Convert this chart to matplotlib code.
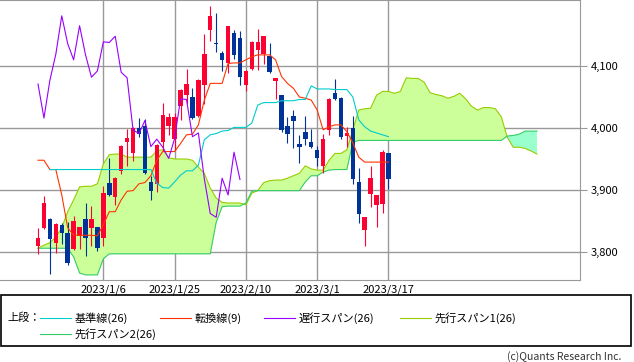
import matplotlib
matplotlib.use('Agg')
import matplotlib.pyplot as plt
from matplotlib.lines import Line2D
from matplotlib.patches import Rectangle
import numpy as np

plt.rcParams['font.family'] = ['Noto Sans CJK JP', 'DejaVu Sans']

# daily candles, 2022/12/20 .. 2023/3/17
opens = [3810, 3839, 3853, 3815, 3844, 3831, 3805, 3826, 3853, 3838,
         3840, 3823, 3911, 3888, 3930, 3978, 3960, 4000, 4003, 3913,
         3909, 3978, 4003, 3983, 4035, 4054, 4050, 4019, 4070, 4158,
         4137, 4121, 4105, 4154, 4145, 4069, 4095, 4126, 4120, 4116,
         4076, 4053, 4003, 4019, 3974, 3994, 3977, 3965, 3938, 3997,
         4056, 4049, 3987, 4000, 3913, 3835, 3894, 3876, 3878, 3959]
highs = [3838, 3891, 3855, 3847, 3847, 3848, 3858, 3841, 3879, 3874,
         3841, 3906, 3952, 3921, 3972, 3999, 4001, 4016, 4015, 3923,
         3974, 4040, 4024, 4024, 4063, 4095, 4065, 4079, 4151, 4197,
         4185, 4125, 4165, 4158, 4156, 4093, 4140, 4160, 4149, 4137,
         4081, 4054, 4018, 4029, 3989, 4019, 3998, 3971, 3991, 4048,
         4079, 4050, 4002, 4019, 3935, 3856, 3938, 3892, 3965, 3960]
lows = [3796, 3837, 3764, 3798, 3813, 3779, 3804, 3805, 3794, 3809,
        3802, 3809, 3891, 3876, 3926, 3938, 3947, 3985, 3926, 3884,
        3897, 3963, 3989, 3965, 4013, 4039, 4015, 4018, 4038, 4141,
        4123, 4092, 4088, 4112, 4069, 4060, 4094, 4094, 4104, 4089,
        4047, 3994, 3976, 3967, 3943, 3973, 3968, 3939, 3928, 3989,
        4045, 3983, 3970, 3909, 3846, 3809, 3873, 3840, 3863, 3901]
closes = [3823, 3879, 3821, 3845, 3830, 3782, 3850, 3840, 3823, 3853,
          3806, 3895, 3892, 3920, 3971, 3984, 4000, 3991, 3927, 3899,
          3973, 4021, 4018, 4018, 4062, 4071, 4016, 4077, 4119, 4181,
          4136, 4110, 4165, 4118, 4082, 4092, 4139, 4138, 4148, 4090,
          4081, 3997, 3991, 4012, 3970, 3982, 3969, 3951, 3983, 4047,
          4046, 3986, 3992, 3918, 3862, 3856, 3919, 3892, 3961, 3917]

tenkan = [3948, 3948, 3933, 3933, 3892, 3839, 3827, 3827, 3827, 3827,
          3826, 3844, 3865, 3865, 3884, 3898, 3899, 3910, 3912, 3923,
          3948, 3962, 3962, 3962, 3975, 3989, 3990, 4005, 4045, 4072,
          4072, 4072, 4104, 4105, 4105, 4110, 4115, 4118, 4118, 4118,
          4110, 4083, 4072, 4064, 4050, 4048, 4045, 4029, 3997, 4002,
          4005, 4005, 3994, 3976, 3953, 3945, 3945, 3945, 3945, 3945]
# kijun starts at the 3rd candle
kijun = [3933, 3933, 3933, 3933, 3933, 3933, 3933, 3933, 3933, 3933,
         3933, 3933, 3933, 3933, 3933, 3933, 3933, 3933, 3911, 3904,
         3903, 3913, 3924, 3931, 3931, 3940, 3981, 3989, 3991, 3995,
         3996, 4001, 4001, 4001, 4008, 4037, 4041, 4041, 4041, 4044,
         4044, 4044, 4046, 4046, 4068, 4063, 4063, 4063, 4062, 4062,
         4062, 4050, 4013, 4002, 3995, 3992, 3989, 3986]
span1 = [3806, 3811, 3815, 3824, 3839, 3865, 3884, 3905, 3906, 3906,
         3910, 3942, 3957, 3958, 3958, 3953, 3953, 3953, 3953, 3953,
         3963, 3965, 3952, 3950, 3950, 3950, 3948, 3937, 3927, 3903,
         3887, 3880, 3879, 3879, 3879, 3876, 3895, 3899, 3912, 3915,
         3916, 3916, 3919, 3923, 3927, 3939, 3934, 3932, 3932, 3948,
         3959, 3959, 3965, 3997, 4029, 4031, 4032, 4053, 4059, 4059,
         4056, 4059, 4081, 4080, 4080, 4074, 4057, 4054, 4052, 4048,
         4051, 4056, 4047, 4035, 4029, 4033, 4033, 4031, 4018, 3985,
         3969, 3969, 3967, 3963, 3958]
span2 = [3806, 3806, 3806, 3806, 3806, 3806, 3792, 3766, 3763, 3763,
         3763, 3789, 3797, 3797, 3797, 3797, 3797, 3797, 3797, 3797,
         3797, 3797, 3797, 3797, 3797, 3797, 3797, 3797, 3797, 3797,
         3848, 3873, 3874, 3874, 3874, 3879, 3898, 3899, 3899, 3899,
         3899, 3899, 3899, 3899, 3899, 3913, 3923, 3923, 3929, 3932,
         3933, 3933, 3933, 3977, 3980, 3980, 3980, 3980, 3980, 3980,
         3980, 3980, 3980, 3980, 3980, 3980, 3980, 3980, 3980, 3980,
         3980, 3980, 3980, 3980, 3980, 3980, 3980, 3980, 3980, 3987,
         3988, 3990, 3995, 3995, 3995]

date_pos = [11, 23, 35, 47, 59]
date_labels = ['2023/1/6', '2023/1/25', '2023/2/10', '2023/3/1', '2023/3/17']
y_ticks = [3800, 3900, 4000, 4100]
y_tick_labels = ['3,800', '3,900', '4,000', '4,100']

shift = 25
RED = '#ff0033'
BLUE = '#003399'
GRID = '#999999'
LW = 0.8

fig = plt.figure(figsize=(6.34, 3.62), dpi=100)
ax = fig.add_axes([0.0, 82 / 362, 580 / 634, 280 / 362])

# cloud
x_span = np.arange(len(span1))
s1 = np.array(span1, dtype=float)
s2 = np.array(span2, dtype=float)
ax.fill_between(x_span, s1, s2, where=s1 >= s2, interpolate=True,
                color='#ccff99', linewidth=0, zorder=1)
ax.fill_between(x_span, s1, s2, where=s1 < s2, interpolate=True,
                color='#99ffcc', linewidth=0, zorder=1)
ax.plot(x_span, s1, color='#99cc00', linewidth=LW, zorder=2)
ax.plot(x_span, s2, color='#33cc66', linewidth=LW, zorder=2)

# candles
o = np.array(opens)
c = np.array(closes)
x = np.arange(len(opens))
up = c >= o
colors = np.where(up, RED, BLUE)
ax.vlines(x, lows, highs, colors=colors, linewidth=LW, zorder=3)
ax.bar(x, np.maximum(np.abs(c - o), 1.5), bottom=np.minimum(o, c), width=0.75,
       color=colors, linewidth=0, zorder=3)

# lines
ax.plot(x, tenkan, color='#ff3300', linewidth=LW, zorder=4)
ax.plot(np.arange(2, 2 + len(kijun)), kijun, color='#00cccc', linewidth=LW, zorder=4)
ax.plot(x[:len(closes) - shift], closes[shift:], color='#9900ff', linewidth=LW, zorder=4)

# axes styling
ax.set_xlim(-38 / 5.94, 542 / 5.94)
ax.set_ylim(3754.8, 4206.5)
ax.set_xticks(date_pos)
ax.set_xticklabels(date_labels, fontsize=8)
ax.set_yticks(y_ticks)
ax.set_yticklabels(y_tick_labels, fontsize=8)
ax.yaxis.tick_right()
ax.tick_params(axis='x', length=0, pad=3)
ax.tick_params(axis='y', length=5, color=GRID, pad=3)
ax.grid(color=GRID, linewidth=1)
ax.set_axisbelow(True)
for side in ['top', 'right', 'bottom']:
    ax.spines[side].set_color(GRID)
ax.spines['left'].set_visible(False)

# legend box
W, H = 634, 362
def fx(px):
    return px / W
def fy(py):
    return 1 - py / H

fig.patches.append(Rectangle((fx(0.5), fy(345.5)), fx(630.5), (345.5 - 295) / H,
                             transform=fig.transFigure, fill=False,
                             edgecolor='black', linewidth=1.2))
fig.text(fx(7), fy(318), '上段：', fontsize=8, va='center')
legend_items = [
    (40, 318, '#00cccc', '基準線(26)'),
    (160, 318, '#ff3300', '転換線(9)'),
    (264, 318, '#9900ff', '遅行スパン(26)'),
    (400, 318, '#99cc00', '先行スパン1(26)'),
    (40, 334, '#33cc66', '先行スパン2(26)'),
]
for lx, ly, col, label in legend_items:
    fig.lines.append(Line2D([fx(lx), fx(lx + 31)], [fy(ly), fy(ly)],
                            transform=fig.transFigure, color=col, linewidth=LW))
    fig.text(fx(lx + 35), fy(ly), label, fontsize=8, va='center')

fig.text(fx(621), fy(357), '(c)Quants Research Inc.', fontsize=7.5,
         ha='right', va='center', color='#333333')

fig.savefig('out.png', dpi=100)
